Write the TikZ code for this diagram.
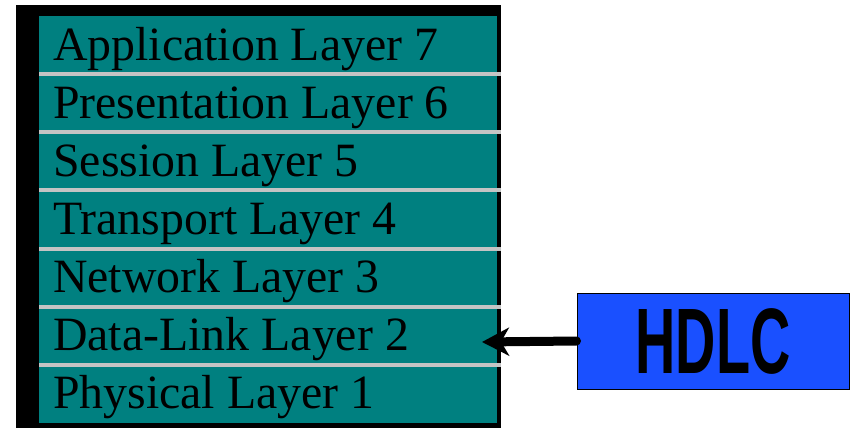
\documentclass[tikz,border=0pt]{standalone}
\usepackage{fontspec}
\setmainfont{Liberation Serif}
\newfontfamily\hdlcfont{Liberation Sans}
\usetikzlibrary{arrows.meta}

\definecolor{layerteal}{HTML}{008080}
\definecolor{sepgray}{HTML}{C4C4C4}
\definecolor{hdlcblue}{HTML}{1A50FF}

\begin{document}
\begin{tikzpicture}[
    x=1pt, y=-1pt,
    layer/.style={anchor=base west, inner sep=0pt, font=\fontsize{47.8}{50}\selectfont},
    sep/.style={draw=sepgray, line width=4pt},
    proto/.style={rectangle, draw=black, fill=hdlcblue, line width=1pt, minimum width=272pt, minimum height=96pt},
    link/.style={-{Stealth[length=27pt, width=28pt, inset=8pt]}, line width=9pt, line cap=round},
]

\useasboundingbox (0,0) rectangle (855,429);

% OSI stack
\fill[black] (16,5) rectangle (501,428);
\fill[layerteal] (39,16) rectangle (497,423);

\foreach \k in {1,...,6}
    \draw[sep] (39,16+\k*58.14) -- (501,16+\k*58.14);

\foreach \i/\name/\txt in {0/app/Application Layer 7, 1/pres/Presentation Layer 6,
        2/sess/Session Layer 5, 3/trans/Transport Layer 4, 4/net/Network Layer 3,
        5/dl/Data-Link Layer 2, 6/phy/Physical Layer 1}
    \node[layer] (\name) at (53,60+\i*58.14) {\txt};

% protocol
\node[proto] (hdlc) at (713,341) {\scalebox{0.6}[1]{\hdlcfont\bfseries\fontsize{93}{93}\selectfont HDLC}};

\coordinate (tip) at (482,342);
\draw[link] (hdlc.west) -- (tip);

\end{tikzpicture}
\end{document}
